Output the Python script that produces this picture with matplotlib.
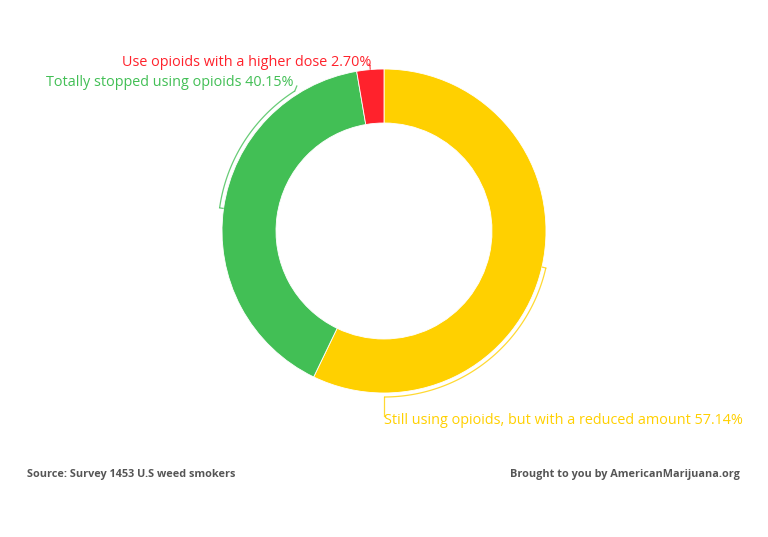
import numpy as np
import matplotlib
matplotlib.use("Agg")
import matplotlib.pyplot as plt

labels = ["Still using opioids, but with a reduced amount",
          "Totally stopped using opioids",
          "Use opioids with a higher dose"]
values = [57.14, 40.15, 2.70]
colors = ["#FFD000", "#42BF55", "#FF222C"]
source_text = "Source: Survey 1453 U.S weed smokers"
credit_text = "Brought to you by AmericanMarijuana.org"

W, H = 768, 537
fig = plt.figure(figsize=(W / 100, H / 100), dpi=100)
ax = fig.add_axes([0, 0, 1, 1])
ax.set_xlim(0, W)
ax.set_ylim(0, H)
ax.set_aspect("equal")
ax.axis("off")

cx, cy = 384, H - 231
R, ring = 162, 54
ax.pie(values, colors=colors, startangle=90, counterclock=False,
       radius=R, center=(cx, cy), frame=True,
       wedgeprops=dict(width=ring, edgecolor="white", linewidth=0.6))
ax.set_xlim(0, W)
ax.set_ylim(0, H)
ax.axis("off")

total = sum(values)
cum = np.cumsum([0] + values)
mids = [90 - 360 * (cum[i] + values[i] / 2) / total for i in range(len(values))]

rc = 166
# end angles of callout arcs (styling) and label placement
ends = [-90, 122.5 - 360, mids[2]]

def pt(a, r=rc):
    return cx + r * np.cos(np.radians(a)), cy + r * np.sin(np.radians(a))

fs = 10.4
for i, (m, e) in enumerate(zip(mids, ends)):
    col = colors[i]
    t = np.linspace(m, e, 100)
    xs, ys = pt(t)
    ax.plot(xs, ys, color=col, lw=0.9, alpha=0.8, solid_capstyle="butt")
    x0, y0 = pt(m, R + 0.5)
    x1, y1 = pt(m, rc)
    ax.plot([x0, x1], [y0, y1], color=col, lw=0.9, alpha=0.8)
    pct = f"{values[i]:.2f}%"
    txt = f"{labels[i]} {pct}"
    ex, ey = pt(e)
    if i == 0:
        ax.plot([ex, ex], [ey, H - 416], color=col, lw=0.9, alpha=0.8)
        ax.text(ex, H - 421, txt, color=col, fontsize=fs, family="Open Sans",
                ha="left", va="center")
    elif i == 1:
        ax.plot([ex, ex + 2], [ey, H - 86], color=col, lw=0.9, alpha=0.8)
        ax.text(ex - 1, H - 83, txt, color=col, fontsize=fs, family="Open Sans",
                ha="right", va="center")
    else:
        ax.plot([ex, ex - 1], [ey, H - 64], color=col, lw=0.9, alpha=0.8)
        ax.text(ex + 1, H - 63, txt, color=col, fontsize=fs, family="Open Sans",
                ha="right", va="center")

ax.text(27, H - 474, source_text, color="#555555", fontsize=7.85,
        family="Open Sans", fontweight="bold", ha="left", va="center")
ax.text(740, H - 474, credit_text, color="#555555", fontsize=7.85,
        family="Open Sans", fontweight="bold", ha="right", va="center")

fig.savefig("out.png", dpi=100, facecolor="white")
